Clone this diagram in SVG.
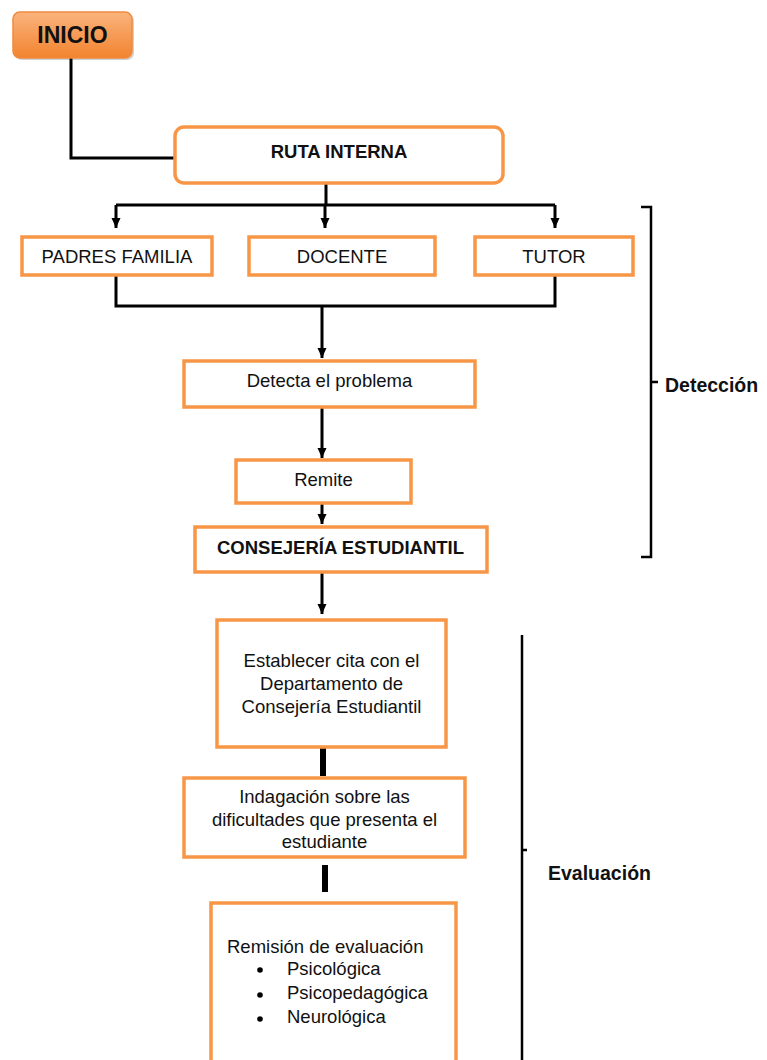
<svg xmlns="http://www.w3.org/2000/svg" width="767" height="1060" viewBox="0 0 767 1060">
<style>
.box{fill:#fff;stroke:#F79646;stroke-width:3.5}
.t{font-family:"Liberation Sans",Arial,sans-serif;font-size:18.5px;fill:#111;text-anchor:middle}
.b{font-weight:bold}
.l{text-anchor:start}
.c{fill:none;stroke:#000;stroke-width:3;stroke-linejoin:miter}
.thick{fill:none;stroke:#000;stroke-width:6}
</style>
<defs>
<linearGradient id="g" x1="0" y1="0" x2="0" y2="1">
<stop offset="0" stop-color="#FAB47D"/>
<stop offset="1" stop-color="#F2832F"/>
</linearGradient>
<marker id="a" markerUnits="userSpaceOnUse" markerWidth="10" markerHeight="10" refX="10" refY="5" orient="auto">
<path d="M0,0.5 L10,5 L0,9.5 z" fill="#000"/>
</marker>
</defs>
<rect width="767" height="1060" fill="#fff"/>
<g id="connectors">
<path class="c" d="M71,58 V158 H175"/>
<path class="c" d="M326,183 V205"/>
<path class="c" d="M116,205 H555"/>
<path class="c" d="M116,205 V228" marker-end="url(#a)"/>
<path class="c" d="M325,205 V228" marker-end="url(#a)"/>
<path class="c" d="M555,205 V228" marker-end="url(#a)"/>
<path class="c" d="M116,275 V306 H555 V275"/>
<path class="c" d="M322,306 V358" marker-end="url(#a)"/>
<path class="c" d="M322,407 V458" marker-end="url(#a)"/>
<path class="c" d="M322,503 V524" marker-end="url(#a)"/>
<path class="c" d="M322,572 V614" marker-end="url(#a)"/>
<path class="thick" d="M323,747 V776"/>
<path class="thick" d="M325,865 V892"/>
</g>
<g id="inicio">
<rect x="15" y="14" width="119" height="46" rx="7" fill="#000" opacity="0.18"/>
<rect x="13" y="12" width="119" height="46" rx="7" fill="url(#g)" stroke="#F08B3E" stroke-width="1.5"/>
<text class="t b" x="72.5" y="43" style="font-size:23px">INICIO</text>
</g>
<g id="ruta-interna">
<rect class="box" x="175" y="127" width="328" height="56" rx="9"/>
<text class="t b" x="339" y="158">RUTA INTERNA</text>
</g>
<g id="padres-familia">
<rect class="box" x="22" y="237" width="190" height="38"/>
<text class="t" x="117" y="263">PADRES FAMILIA</text>
</g>
<g id="docente">
<rect class="box" x="249" y="237" width="186" height="38"/>
<text class="t" x="342" y="263">DOCENTE</text>
</g>
<g id="tutor">
<rect class="box" x="475" y="237" width="158" height="38"/>
<text class="t" x="554" y="263">TUTOR</text>
</g>
<g id="detecta">
<rect class="box" x="184" y="361" width="291" height="46"/>
<text class="t" x="329.5" y="387">Detecta el problema</text>
</g>
<g id="remite">
<rect class="box" x="236" y="460" width="175" height="43"/>
<text class="t" x="323.5" y="486">Remite</text>
</g>
<g id="consejeria">
<rect class="box" x="195" y="527" width="292" height="45"/>
<text class="t b" x="340.5" y="554">CONSEJERÍA ESTUDIANTIL</text>
</g>
<g id="establecer">
<rect class="box" x="217" y="620" width="229" height="127"/>
<text class="t" x="331.5" y="667">Establecer cita con el</text>
<text class="t" x="331.5" y="690">Departamento de</text>
<text class="t" x="331.5" y="713">Consejería Estudiantil</text>
</g>
<g id="indagacion">
<rect class="box" x="184" y="778" width="281" height="79"/>
<text class="t" x="324.5" y="803">Indagación sobre las</text>
<text class="t" x="324.5" y="826">dificultades que presenta el</text>
<text class="t" x="324.5" y="848">estudiante</text>
</g>
<g id="remision">
<rect class="box" x="211" y="903" width="245" height="170"/>
<text class="t l" x="227" y="953">Remisión de evaluación</text>
<circle cx="260" cy="970" r="2.8" fill="#000"/>
<circle cx="260" cy="995" r="2.8" fill="#000"/>
<circle cx="260" cy="1019" r="2.8" fill="#000"/>
<text class="t l" x="287" y="975">Psicológica</text>
<text class="t l" x="287" y="999">Psicopedagógica</text>
<text class="t l" x="287" y="1023">Neurológica</text>
</g>
<g id="deteccion">
<path class="c" d="M641,207 H651 V557 H641 M651,382 H658" style="stroke-width:2.5"/>
<text class="t b l" x="665" y="392" style="font-size:19.5px">Detección</text>
</g>
<g id="evaluacion">
<path class="c" d="M522,635 V1065 M522,850 H527" style="stroke-width:2.5"/>
<text class="t b l" x="548" y="880" style="font-size:19.5px">Evaluación</text>
</g>
</svg>
